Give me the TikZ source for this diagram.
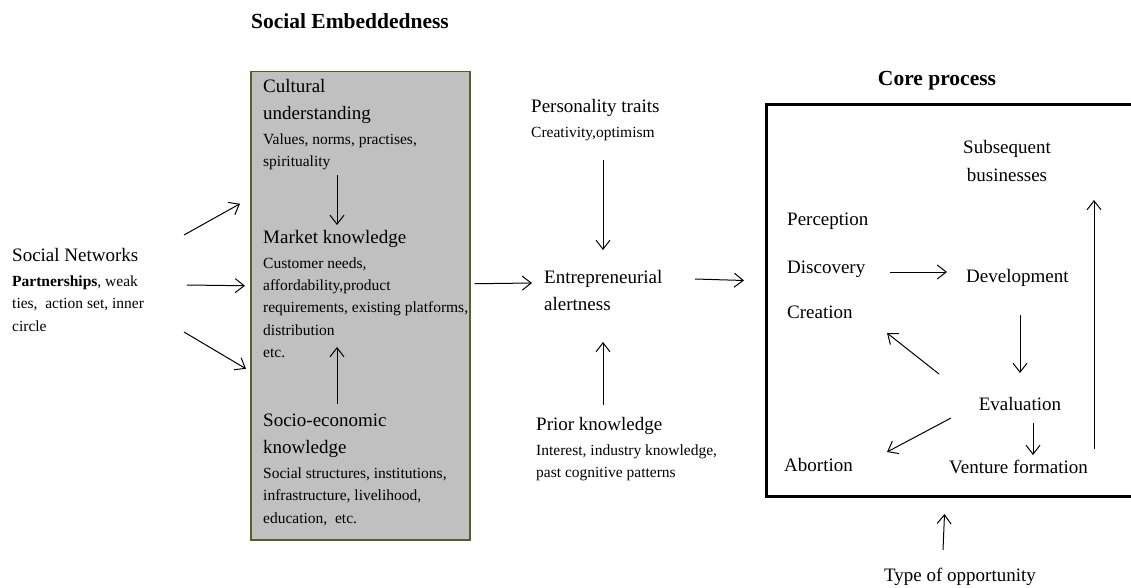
\documentclass[tikz,border=0pt]{standalone}
\usepackage{fontspec}
\setmainfont{Liberation Serif}
\usetikzlibrary{arrows.meta,calc}

\definecolor{segray}{RGB}{192,192,192}
\definecolor{seborder}{RGB}{79,98,40}

\newcommand{\bigtxt}{\fontsize{19}{22}\selectfont}

\begin{document}
\begin{tikzpicture}[x=1pt,y=-1pt,
  txt/.style={inner sep=0pt,anchor=base west,align=left,font=\fontsize{15.5}{22}\selectfont},
  bigblk/.style={inner sep=0pt,anchor=base west,align=left,font=\fontsize{19}{22}\selectfont},
  heading/.style={inner sep=0pt,anchor=base,font=\fontsize{21.5}{24}\selectfont\bfseries},
  arr/.style={-{Straight Barb[length=9pt,width=14pt]},line width=1pt},
]
\useasboundingbox (0,0) rectangle (1131,588);

% headings
\node[heading] (setitle) at (350,29) {Social Embeddedness};
\node[heading] (cptitle) at (937,86) {Core process};

% social embeddedness box
\node[draw=seborder,fill=segray,line width=1.5pt,inner sep=0pt,
      minimum width=219,minimum height=468,anchor=north west] (embed) at (250,71) {};

% core process frame (open towards the right edge)
\node[draw=black,line width=3pt,inner sep=0pt,
      minimum width=385,minimum height=392,anchor=north west] (core) at (765,103) {};

% left input (multi-line blocks are placed by the baseline of their last line)
\node[txt] (sn) at (12,331) {{\bigtxt Social Networks}\\[3pt]
  \textbf{Partnerships}, weak\\ ties,\ \ action set, inner\\[1pt] circle};

% contents of the embeddedness box
\node[txt] (cult) at (263,167) {{\bigtxt Cultural}\\[5pt] {\bigtxt understanding}\\[3pt]
  Values, norms, practises,\\ spirituality};
\node[txt] (mkt) at (263,357) {{\bigtxt Market knowledge}\\[3pt] Customer needs,\\
  affordability,product\\ requirements, existing platforms,\\[1pt] distribution\\ etc.};
\node[txt] (socio) at (263,523) {{\bigtxt Socio-economic}\\[5pt] {\bigtxt knowledge}\\[3pt]
  Social structures, institutions,\\ infrastructure, livelihood,\\[1pt] education,\ \ etc.};

% alertness and its drivers
\node[txt] (pers) at (531,138) {{\bigtxt Personality traits}\\[3pt] Creativity,optimism};
\node[bigblk] (ea) at (544,310) {Entrepreneurial\\[5pt] alertness};
\node[txt] (prior) at (536,477) {{\bigtxt Prior knowledge}\\[3pt]
  Interest, industry knowledge,\\ past cognitive patterns};

% core process stages
\node[bigblk,anchor=base,align=center] (subs) at (1007,182) {Subsequent\\[6pt] businesses};
\node[bigblk] (perc) at (787,225) {Perception};
\node[bigblk] (disc) at (787,273) {Discovery};
\node[bigblk] (crea) at (787,318) {Creation};
\node[bigblk] (dev) at (966,282) {Development};
\node[bigblk,anchor=base] (eval) at (1020,410) {Evaluation};
\node[bigblk] (abort) at (784,471) {Abortion};
\node[bigblk] (vent) at (949,473) {Venture formation};
\node[bigblk,anchor=base] (type) at (960,581) {Type of opportunity};

% connectors
\draw[arr] ($(sn.base west)+(172,-96)$) -- ($(embed.west)+(-10,-102)$);
\draw[arr] ($(sn.base west)+(175,-46)$) -- ($(embed.west)+(-5,-20)$);
\draw[arr] ($(sn.base west)+(172,1)$) -- ($(embed.west)+(-4,63)$);

\draw[arr] ($(cult.base west)+(74,8)$) -- ($(mkt.base west)+(74,-132)$);
\draw[arr] ($(socio.base west)+(74,-119)$) -- ($(mkt.base west)+(74,-10)$);

\draw[arr] ($(embed.east)+(4,-22)$) -- ($(ea.base west)+(-12,-27)$);
\draw[arr] ($(pers.base west)+(72,22)$) -- ($(ea.base west)+(59,-60)$);
\draw[arr] ($(prior.base west)+(67,-72)$) -- ($(ea.base west)+(59,32)$);
\draw[arr] ($(ea.base west)+(151,-31)$) -- ($(core.west)+(-21,-20)$);

\draw[arr] ($(disc.base west)+(103,-1)$) -- ($(dev.base west)+(-19,-10)$);
\draw[arr] ($(dev.base west)+(54,33)$) -- ($(eval.base)+(0,-37)$);
\draw[arr] ($(eval.base)+(-81,-36)$) -- ($(crea.base west)+(100,15)$);
\draw[arr] ($(eval.base)+(-69,8)$) -- ($(abort.base west)+(103,-19)$);
\draw[arr] ($(eval.base)+(13,13)$) -- ($(vent.base west)+(84,-18)$);
\draw[arr] ($(vent.base west)+(145,-24)$) -- ($(subs.base)+(87,18)$);
\draw[arr] ($(type.base)+(-17,-31)$) -- ($(core.south)+(-14.5,16)$);
\end{tikzpicture}
\end{document}
